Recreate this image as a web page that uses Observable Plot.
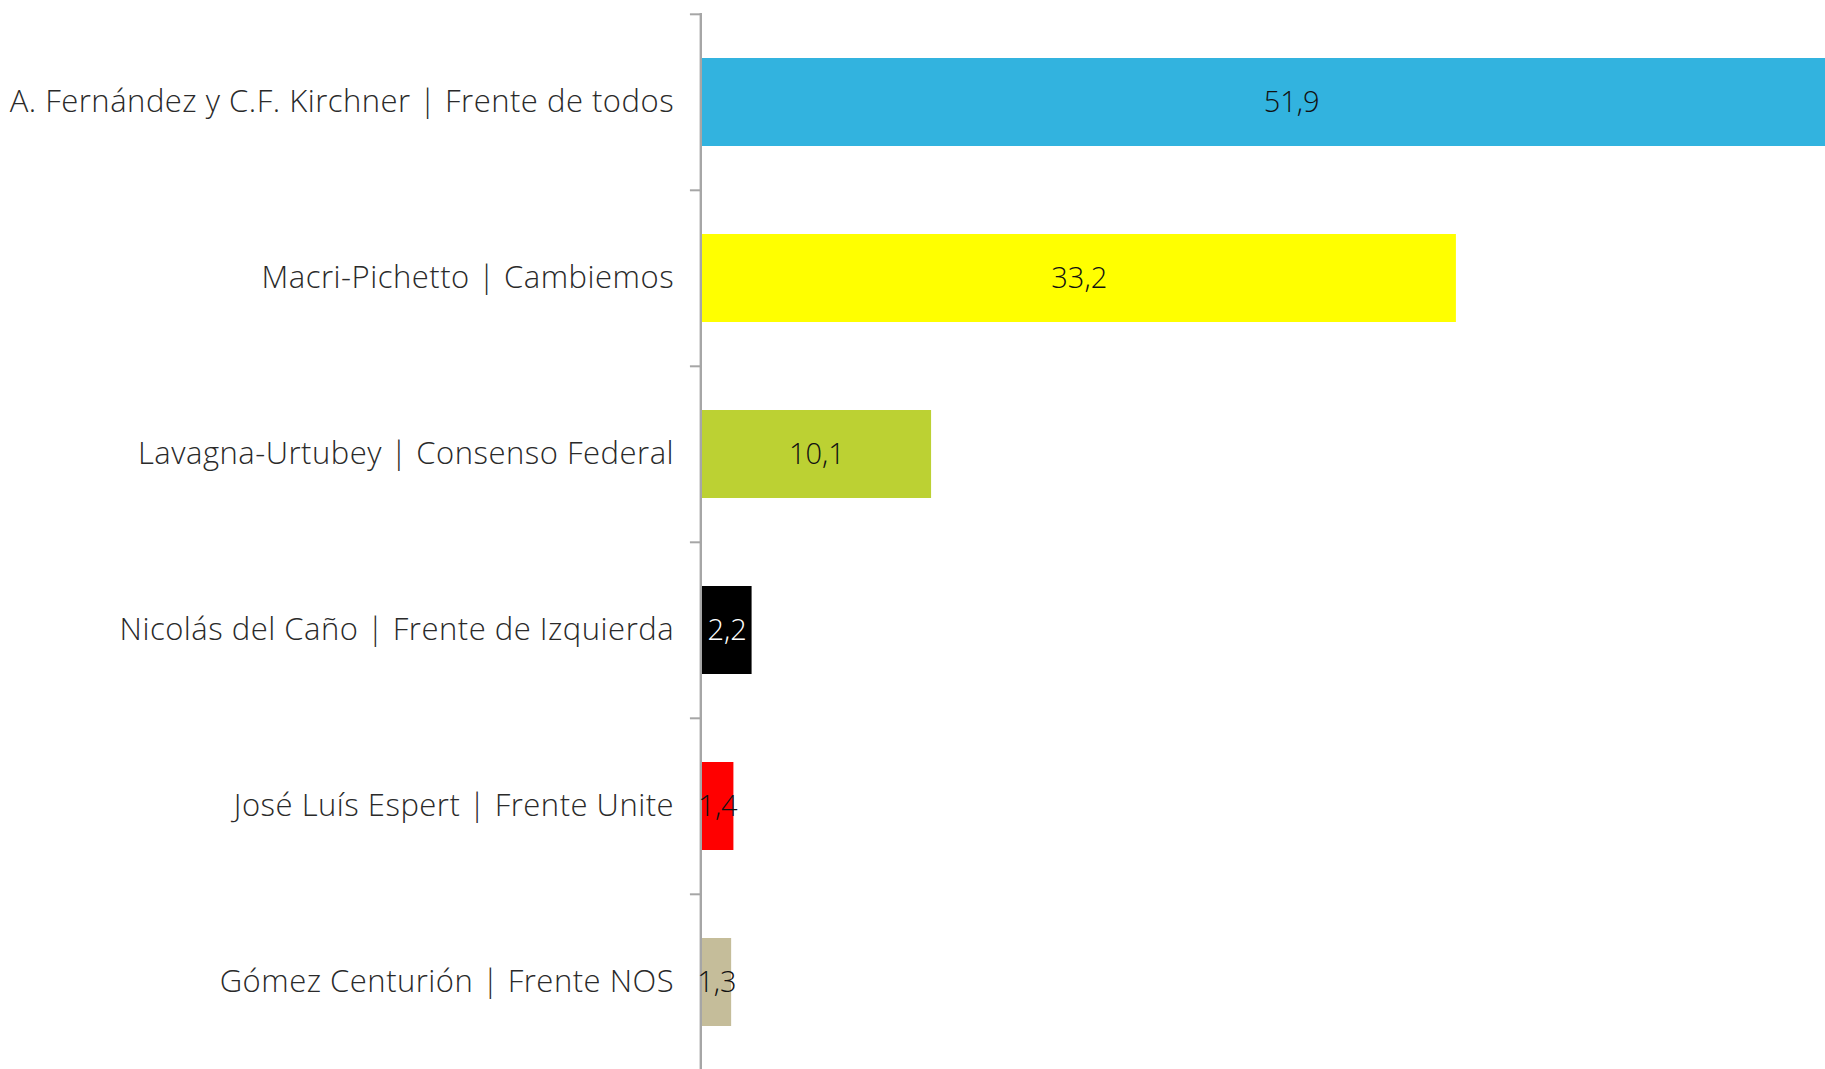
<!DOCTYPE html>
<html>
<head>
<meta charset="utf-8">
<script src="https://cdn.jsdelivr.net/npm/d3@7"></script>
<script src="https://cdn.jsdelivr.net/npm/@observablehq/plot@0.6"></script>
<style>
  html, body { margin: 0; padding: 0; background: #fff; overflow: hidden; }
  #chart svg { overflow: hidden; display: block; }
  #chart svg g[text-anchor="end"] text { letter-spacing: 0.5px; }
</style>
</head>
<body>
<div id="chart"></div>
<script>
const candidates = [
  "A. Fernández y C.F. Kirchner | Frente de todos",
  "Macri-Pichetto | Cambiemos",
  "Lavagna-Urtubey | Consenso Federal",
  "Nicolás del Caño | Frente de Izquierda",
  "José Luís Espert | Frente Unite",
  "Gómez Centurión | Frente NOS"
];
const votes = [51.9, 33.2, 10.1, 2.2, 1.4, 1.3];
const barColors = ["#32B3DF", "#FFFF00", "#BCD133", "#000000", "#FF0000", "#C5BD9A"];

const data = candidates.map((c, i) => ({candidate: c, votes: votes[i]}));
const colorOf = new Map(candidates.map((c, i) => [c, barColors[i]]));
const fmt = v => v.toFixed(1).replace(".", ",");

const W = 1825, H = 1069;
const x0 = 701.6, pxPerUnit = 22.72;
const yTop = 13.1, yBottom = 1071.5;
const step = (yBottom - yTop) / candidates.length;
const font = "'Open Sans', 'Noto Sans', Lato, sans-serif";

const chart = Plot.plot({
  width: W,
  height: H,
  marginTop: 13,
  marginBottom: 0,
  marginLeft: 0,
  marginRight: 0,
  style: {background: "#fff", fontFamily: font, overflow: "hidden"},
  x: {domain: [0, d3.max(votes)], range: [x0, x0 + pxPerUnit * d3.max(votes)], axis: null},
  y: {type: "band", domain: candidates, range: [yTop, yBottom], paddingInner: 0.5, paddingOuter: 0.25, axis: null},
  color: {type: "ordinal", domain: candidates, range: barColors},
  marks: [
    Plot.barX(data, {y: "candidate", x1: 0, x2: "votes", fill: "candidate"}),
    Plot.ruleX([0], {stroke: "#A6A6A6", strokeWidth: 2.4, dx: -1.3}),
    Plot.ruleY(data, {y: "candidate", x1: -0.47, x2: 0, dx: -1, dy: -step / 2, stroke: "#A6A6A6", strokeWidth: 2}),
    Plot.text(data, {
      y: "candidate", x: 0, dx: -28, text: "candidate", textAnchor: "end",
      fontSize: 31, fontWeight: 300, fill: "#2a2a2a"
    }),
    Plot.text(data, {
      y: "candidate", x: d => d.votes / 2, text: d => fmt(d.votes),
      fontSize: 29, fontWeight: 300,
      fill: d => d3.hsl(colorOf.get(d.candidate)).l < 0.25 ? "#fff" : "#111"
    })
  ]
});
document.getElementById("chart").appendChild(chart);
</script>
</body>
</html>
